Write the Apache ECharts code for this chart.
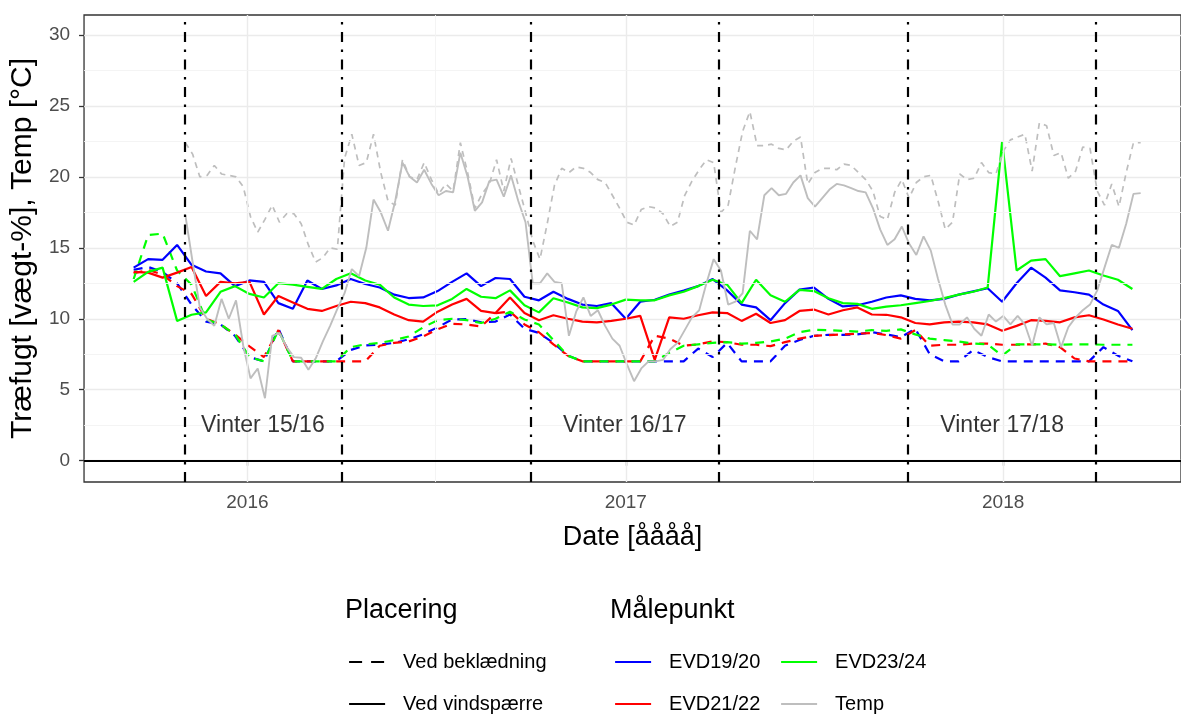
<!DOCTYPE html>
<html>
<head>
<meta charset="utf-8">
<script src="https://cdn.jsdelivr.net/npm/echarts@6/dist/echarts.min.js"></script>
<style>
html,body{margin:0;padding:0;background:#fff;}
#c{width:1181px;height:718px;}
</style>
</head>
<body>
<div id="c"></div>
<script>
// ---------- DATA ----------
// Moisture readings: sampled every 14 days starting 2015-09-13
const moistStart = [2015, 9, 13];
const moistStepDays = 14;

const evd1920_vind = [13.6, 14.2, 14.15, 15.2, 13.8, 13.33, 13.2, 12.3, 12.7, 12.6, 11.1, 10.7, 12.7, 12.1, 12.35, 12.8, 12.45, 12.2, 11.7, 11.46, 11.5, 11.95, 12.6, 13.2, 12.3, 12.87, 12.8, 11.55, 11.3, 11.9, 11.4, 11.0, 10.9, 11.1, 10.0, 11.2, 11.34, 11.7, 11.99, 12.3, 12.8, 12.0, 11.0, 10.8, 9.9, 11.1, 12.05, 12.2, 11.4, 10.87, 10.95, 11.2, 11.5, 11.65, 11.4, 11.3, 11.4, 11.7, 11.93, 12.15, 11.2, 12.5, 13.6, 12.9, 12.0, 11.87, 11.7, 11.0, 10.55, 9.2];
const evd2122_vind = [13.3, 13.25, 12.9, 13.25, 13.65, 11.6, 12.6, 12.5, 12.6, 10.3, 11.6, 11.15, 10.7, 10.55, 10.9, 11.2, 11.1, 10.8, 10.3, 9.9, 9.8, 10.5, 11.0, 11.4, 10.55, 10.4, 11.5, 10.4, 9.9, 10.25, 10.0, 9.8, 9.74, 9.85, 10.0, 10.2, 7.1, 10.1, 10.0, 10.25, 10.45, 10.4, 9.85, 10.35, 9.7, 9.9, 10.55, 10.65, 10.3, 10.6, 10.8, 10.3, 10.28, 10.1, 9.7, 9.6, 9.75, 9.8, 9.75, 9.6, 9.15, 9.5, 9.9, 9.85, 9.75, 10.1, 10.25, 9.95, 9.6, 9.3];
const evd2324_vind = [12.6, 13.3, 13.6, 9.85, 10.28, 10.45, 11.9, 12.3, 11.75, 11.5, 12.5, 12.4, 12.25, 12.1, 12.8, 13.2, 12.7, 12.4, 11.5, 11.0, 10.9, 10.95, 11.4, 12.1, 11.55, 11.45, 12.0, 10.95, 10.45, 11.45, 11.15, 10.8, 10.75, 11.0, 11.35, 11.3, 11.3, 11.65, 11.9, 12.3, 12.75, 12.4, 11.1, 12.75, 11.65, 11.2, 12.04, 11.95, 11.45, 11.1, 11.05, 10.7, 10.85, 10.95, 11.1, 11.25, 11.45, 11.7, 11.9, 12.2, 22.5, 13.4, 14.1, 14.2, 13.0, 13.2, 13.4, 13.05, 12.75, 12.1];

const evd1920_bekl = [13.45, 13.65, 13.3, 12.5, 11.0, 9.8, 9.6, 8.8, 7.3, 7.0, 9.3, 7.0, 7.0, 7.0, 7.0, 7.8, 8.12, 8.17, 8.3, 8.55, 8.9, 9.4, 9.95, 9.98, 9.75, 9.8, 10.3, 9.3, 9.0, 8.3, 7.4, 7.0, 7.0, 7.0, 7.0, 7.0, 7.0, 7.0, 7.0, 7.9, 7.3, 8.3, 7.0, 7.0, 7.0, 8.1, 8.5, 8.8, 8.87, 8.87, 8.9, 9.05, 8.9, 8.7, 9.3, 7.5, 7.0, 7.0, 7.8, 7.3, 7.0, 7.0, 7.0, 7.0, 7.0, 7.0, 7.0, 8.0, 7.4, 7.0];
const evd2122_bekl = [13.2, 13.45, 13.1, 12.3, 11.75, 10.0, 9.6, 8.9, 8.05, 7.3, 9.2, 7.0, 7.0, 7.0, 7.0, 7.0, 7.0, 8.1, 8.3, 8.4, 8.75, 9.25, 9.65, 9.6, 9.45, 10.4, 10.5, 9.6, 9.05, 8.2, 7.4, 7.0, 7.0, 7.0, 7.0, 7.0, 8.8, 8.6, 8.1, 8.2, 8.4, 8.35, 8.17, 8.17, 8.07, 8.35, 8.6, 8.8, 8.85, 8.9, 8.95, 9.0, 8.85, 8.6, 9.2, 8.1, 8.17, 8.17, 8.25, 8.25, 8.17, 8.17, 8.2, 8.25, 8.0, 7.2, 7.0, 7.0, 7.0, 7.0];
const evd2324_bekl = [12.8, 15.9, 16.0, 13.4, 12.4, 9.95, 9.6, 8.9, 7.3, 7.0, 9.2, 7.0, 7.0, 7.0, 7.0, 8.0, 8.2, 8.3, 8.5, 8.75, 9.4, 9.9, 10.0, 9.9, 9.7, 10.0, 10.5, 9.95, 9.6, 8.5, 7.4, 7.0, 7.0, 7.0, 7.0, 7.0, 7.0, 7.6, 8.1, 8.2, 8.3, 8.35, 8.25, 8.3, 8.4, 8.6, 9.05, 9.22, 9.2, 9.15, 9.1, 9.2, 9.15, 9.25, 8.9, 8.6, 8.5, 8.4, 8.25, 8.2, 7.4, 8.2, 8.2, 8.2, 8.17, 8.2, 8.2, 8.17, 8.17, 8.17];

// Temperature readings: sampled every 7 days starting 2015-11-02
const tempStart = [2015, 11, 2];
const tempStepDays = 7;
const temp_vind = [17.3, 14.0, 10.8, 10.0, 9.5, 11.4, 10.0, 11.3, 8.1, 5.8, 6.5, 4.4, 8.8, 9.0, 8.0, 7.3, 7.25, 6.4, 7.2, 8.4, 9.5, 10.7, 11.8, 13.5, 13.0, 15.0, 18.4, 17.5, 16.2, 18.3, 21.0, 20.0, 19.6, 20.5, 19.5, 18.7, 19.0, 18.9, 21.7, 20.0, 17.6, 18.2, 19.7, 19.8, 18.6, 20.1, 18.3, 16.8, 12.5, 12.5, 13.2, 12.6, 12.5, 8.8, 10.5, 11.5, 10.2, 10.6, 9.5, 8.6, 8.1, 6.8, 5.6, 6.5, 7.0, 7.0, 7.1, 7.85, 8.3, 9.2, 10.1, 10.6, 12.5, 14.2, 13.4, 11.0, 11.2, 11.8, 16.2, 15.6, 18.7, 19.2, 18.7, 18.8, 19.6, 20.1, 18.5, 17.9, 18.5, 19.1, 19.5, 19.4, 19.2, 19.0, 18.9, 17.8, 16.3, 15.2, 15.6, 16.5, 15.3, 14.5, 15.8, 14.8, 12.8, 11.0, 9.6, 9.6, 10.1, 9.3, 8.8, 10.3, 9.8, 10.2, 9.6, 10.2, 9.6, 8.1, 10.1, 9.6, 9.7, 8.0, 9.4, 10.1, 10.6, 11.0, 12.0, 13.6, 15.2, 15.0, 16.7, 18.8, 18.85];
const temp_bekl = [22.4, 21.6, 20.0, 20.1, 20.8, 20.2, 20.1, 20.0, 19.3, 17.2, 16.1, 17.0, 18.0, 16.8, 17.4, 17.4, 16.7, 15.2, 14.0, 14.3, 15.0, 14.9, 21.3, 23.0, 20.8, 21.0, 23.0, 20.3, 18.3, 18.0, 21.2, 20.0, 19.8, 21.0, 19.8, 18.8, 19.5, 19.0, 22.4, 20.3, 17.8, 18.8, 19.5, 21.2, 19.0, 21.3, 19.4, 17.5, 15.5, 14.2, 16.7, 19.4, 20.6, 20.3, 20.7, 20.6, 20.3, 19.8, 19.6, 18.7, 17.8, 16.8, 16.6, 17.7, 17.9, 17.8, 17.4, 16.5, 16.8, 18.7, 19.7, 20.5, 21.2, 21.0, 17.5, 18.0, 20.7, 23.2, 24.6, 22.2, 22.2, 22.3, 22.0, 21.9, 22.5, 22.8, 19.5, 20.3, 20.6, 20.6, 20.5, 20.9, 20.8, 20.3, 19.8, 19.0, 17.2, 17.0, 18.9, 19.8, 18.5, 19.6, 20.0, 20.1, 18.3, 16.3, 16.8, 20.2, 19.8, 19.9, 21.0, 20.3, 20.2, 21.8, 22.6, 22.8, 23.0, 20.4, 23.8, 23.6, 21.5, 21.7, 19.9, 20.4, 22.1, 22.0, 19.0, 18.0, 19.5, 17.9, 20.3, 22.4, 22.4];

const winterStarts = ['2015-11-01', '2016-10-01', '2017-10-01'];
const winterEnds   = ['2016-04-01', '2017-04-01', '2018-04-01'];
const winterLabels = ['Vinter 15/16', 'Vinter 16/17', 'Vinter 17/18'];

const yTicks = [0, 5, 10, 15, 20, 25, 30];
const yMinorTicks = [2.5, 7.5, 12.5, 17.5, 22.5, 27.5];
const xTickYears = [2016, 2017, 2018];
const xMinorDates = ['2016-07-01', '2017-07-01'];

// ---------- HELPERS ----------
function ts(y, m, d) { return new Date(y, m - 1, d).getTime(); }
function parseDate(s) { const p = s.split('-').map(Number); return ts(p[0], p[1], p[2]); }
function toPairs(start, step, vals) {
  return vals.map((v, i) => [ts(start[0], start[1], start[2] + i * step), v]);
}
const xTickVals = xTickYears.map(y => ts(y, 1, 1));

const FONT = '"Liberation Sans", Arial, sans-serif';
const DASH = [9, 7];
const TDASH = [6, 5];
const COL = { b: '#0000ff', r: '#ff0000', g: '#00ff00', t: '#bebebe' };

function lineSeries(name, data, color, dash, width, z) {
  return {
    type: 'line', name: name, data: data, symbol: 'none', showSymbol: false,
    z: z, silent: true, animation: false,
    itemStyle: { color: color },
    lineStyle: { color: color, width: width, type: dash || 'solid' }
  };
}

const series = [
  lineSeries('EVD19/20', toPairs(moistStart, moistStepDays, evd1920_vind), COL.b, null, 2.2, 3),
  lineSeries('EVD21/22', toPairs(moistStart, moistStepDays, evd2122_vind), COL.r, null, 2.2, 3),
  lineSeries('EVD23/24', toPairs(moistStart, moistStepDays, evd2324_vind), COL.g, null, 2.2, 3),
  lineSeries('Temp', toPairs(tempStart, tempStepDays, temp_vind), COL.t, null, 1.9, 4),
  lineSeries('EVD19/20', toPairs(moistStart, moistStepDays, evd1920_bekl), COL.b, DASH, 2.2, 2),
  lineSeries('EVD21/22', toPairs(moistStart, moistStepDays, evd2122_bekl), COL.r, DASH, 2.2, 2),
  lineSeries('EVD23/24', toPairs(moistStart, moistStepDays, evd2324_bekl), COL.g, DASH, 2.2, 2),
  lineSeries('Temp', toPairs(tempStart, tempStepDays, temp_bekl), COL.t, TDASH, 1.7, 4),
  lineSeries('Ved beklædning', [], '#000', [13, 9], 2.2, 2),
  lineSeries('Ved vindspærre', [], '#000', null, 2.2, 2),
  {
    type: 'line', name: '_grid', data: [], z: 1, silent: true, animation: false,
    markLine: {
      silent: true, symbol: ['none', 'none'], label: { show: false }, animation: false,
      data: xTickVals.map(v => ({ xAxis: v, lineStyle: { color: '#ebebeb', width: 1.4, type: 'solid' } }))
        .concat(xMinorDates.map(d => ({ xAxis: parseDate(d), lineStyle: { color: '#f3f3f3', width: 0.9, type: 'solid' } })))
        .concat(yMinorTicks.map(v => ({ yAxis: v, lineStyle: { color: '#f3f3f3', width: 0.9, type: 'solid' } })))
    }
  },
  {
    type: 'line', name: '_ref', data: [], z: 6, silent: true, animation: false,
    markLine: {
      silent: true, symbol: ['none', 'none'], label: { show: false }, animation: false,
      data: winterStarts.concat(winterEnds).map(d => ({
        xAxis: parseDate(d), lineStyle: { color: '#000', width: 2.2, type: [10, 7.5, 2.5, 7.5] }
      })).concat([{ yAxis: 0, lineStyle: { color: '#000', width: 1.8, type: 'solid' } }])
    }
  },
  {
    type: 'scatter', name: '_labels', z: 6, silent: true, animation: false,
    symbol: 'circle', symbolSize: 1, itemStyle: { color: 'rgba(0,0,0,0)' },
    data: winterLabels.map((n, i) => ({
      name: n, value: [(parseDate(winterStarts[i]) + parseDate(winterEnds[i])) / 2, 2.45]
    })),
    label: {
      show: true, position: 'inside', formatter: p => p.name, fontSize: 23,
      color: '#000', textBorderWidth: 0, textBorderColor: 'transparent', fontFamily: FONT
    }
  }
];

const legendCommon = {
  orient: 'vertical', top: 652, itemWidth: 36, itemHeight: 20, itemGap: 22, padding: 0,
  selectedMode: false,
  itemStyle: { opacity: 0 },
  lineStyle: { width: 2.2 },
  textStyle: { fontSize: 20, color: '#000', fontFamily: FONT, padding: [0, 0, 0, 13], lineHeight: 20 }
};

const option = {
  animation: false,
  backgroundColor: '#fff',
  textStyle: { fontFamily: FONT },
  title: [
    { text: 'Placering', left: 345, top: 597, padding: 0, textStyle: { fontSize: 27, fontWeight: 'normal', color: '#000', fontFamily: FONT } },
    { text: 'Målepunkt', left: 610, top: 597, padding: 0, textStyle: { fontSize: 27, fontWeight: 'normal', color: '#000', fontFamily: FONT } }
  ],
  legend: [
    Object.assign({}, legendCommon, { left: 348, data: ['Ved beklædning', 'Ved vindspærre'] }),
    Object.assign({}, legendCommon, { left: 614, data: ['EVD19/20', 'EVD21/22'] }),
    Object.assign({}, legendCommon, { left: 780, data: ['EVD23/24', 'Temp'] })
  ],
  grid: {
    left: 83, top: 15, width: 1100, height: 467, show: true,
    borderColor: '#333', borderWidth: 1.3, backgroundColor: '#fff', containLabel: false
  },
  xAxis: {
    type: 'value', min: parseDate('2015-07-27'), max: parseDate('2018-06-22'),
    scale: true,
    axisLine: { show: false },
    axisTick: { show: true, length: 5, lineStyle: { color: '#333', width: 1.3 }, customValues: xTickVals },
    axisLabel: {
      customValues: xTickVals, fontSize: 19, color: '#4d4d4d', margin: 11, fontFamily: FONT,
      formatter: v => String(new Date(v).getFullYear())
    },
    splitLine: { show: false },
    name: 'Date [åååå]', nameLocation: 'middle', nameGap: 42,
    nameTextStyle: { fontSize: 27, color: '#000', fontFamily: FONT }
  },
  yAxis: {
    type: 'value', min: -1.5, max: 31.4, splitNumber: 6,
    axisLine: { show: false },
    axisTick: { show: true, length: 5, lineStyle: { color: '#333', width: 1.3 }, customValues: yTicks },
    axisLabel: { customValues: yTicks, fontSize: 19, color: '#4d4d4d', margin: 14, fontFamily: FONT },
    splitLine: { show: true, lineStyle: { color: '#ebebeb', width: 1.4 } },
    name: 'Træfugt [vægt-%], Temp [°C]', nameLocation: 'middle', nameGap: 40,
    nameTextStyle: { fontSize: 30, color: '#000', fontFamily: FONT }
  },
  series: series
};

const chart = echarts.init(document.getElementById('c'), null, { renderer: 'canvas' });
chart.setOption(option);
</script>
</body>
</html>
